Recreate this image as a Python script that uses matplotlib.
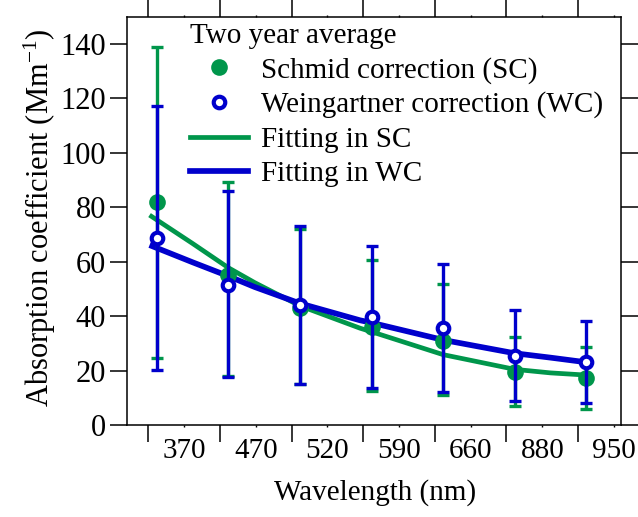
import numpy as np
import matplotlib
matplotlib.use("Agg")
import matplotlib.pyplot as plt
from matplotlib.lines import Line2D

plt.rcParams['font.family'] = ['Liberation Serif', 'DejaVu Serif']
plt.rcParams['mathtext.fontset'] = 'custom'
plt.rcParams['mathtext.rm'] = 'Liberation Serif'
plt.rcParams['mathtext.it'] = 'Liberation Serif:italic'

# ---- data ----
wavelengths = ["370", "470", "520", "590", "660", "880", "950"]

sc_mean = [82.1, 55.2, 43.0, 36.3, 31.1, 19.7, 17.3]
sc_upper = [138.9, 89.5, 72.0, 60.7, 51.9, 32.6, 28.7]
sc_lower = [24.9, 18.1, 15.1, 12.7, 11.2, 7.2, 6.2]

wc_mean = [68.7, 51.6, 44.2, 39.7, 35.9, 25.5, 23.2]
wc_upper = [117.1, 86.2, 73.2, 65.9, 59.3, 42.3, 38.5]
wc_lower = [20.4, 17.9, 15.2, 13.9, 12.4, 9.0, 8.1]

fit_x = [-0.10, 0.5, 1.0, 1.37, 2.0, 2.84, 3.0, 4.0, 5.0, 5.5, 6.0]
fit_sc = [77.2, 66.8, 57.9, 52.4, 43.9, 35.7, 34.4, 26.0, 20.6, 19.3, 18.5]
fit_wc = [66.2, 59.9, 54.8, 50.8, 44.8, 38.6, 37.7, 31.4, 26.5, 24.9, 23.2]

GREEN = "#00964B"
BLUE = "#0000CC"
FS = 21

fig = plt.figure(figsize=(6.38, 5.17), dpi=100)
ax = fig.add_axes([0.1986, 0.177, 0.7748, 0.7907])

x = np.arange(len(wavelengths))
sc_m = np.array(sc_mean); wc_m = np.array(wc_mean)
sc_err = [sc_m - np.array(sc_lower), np.array(sc_upper) - sc_m]
wc_err = [wc_m - np.array(wc_lower), np.array(wc_upper) - wc_m]

ax.plot(fit_x, fit_sc, color=GREEN, lw=3.4, zorder=2, solid_capstyle='butt',
        solid_joinstyle='round')
ax.plot(fit_x, fit_wc, color=BLUE, lw=4.1, zorder=2.5, solid_capstyle='butt',
        solid_joinstyle='round')

ax.errorbar(x, sc_m, yerr=sc_err, fmt='none', ecolor=GREEN, elinewidth=2.4,
            capsize=4, capthick=2.4, zorder=3)
ax.plot(x, sc_m, 'o', color=GREEN, ms=12, mew=0, zorder=3.5)
ax.errorbar(x, wc_m, yerr=wc_err, fmt='none', ecolor=BLUE, elinewidth=2.4,
            capsize=4, capthick=2.4, zorder=4)
ax.plot(x, wc_m, 'o', mfc='white', mec=BLUE, ms=8.3, mew=3, zorder=5)

ax.set_xlim(-0.419, 6.485)
ax.set_ylim(0, 150)

ax.set_xticks(x - 0.115)
ax.set_xticklabels([])
ax.set_xticks(x + 0.385, minor=True)
ax.set_xticklabels(wavelengths, minor=True, fontsize=FS)
ax.set_yticks(np.arange(0, 141, 20))
ax.tick_params(axis='y', which='major', direction='out', length=12, width=1.1,
               labelsize=22, pad=3, right=True)
ax.tick_params(axis='x', which='major', direction='out', length=12.5, width=1.1,
               top=True)
ax.tick_params(axis='x', which='minor', direction='out', length=1.5, width=1.0,
               top=True, labelsize=FS, pad=7.5)
for s in ax.spines.values():
    s.set_linewidth(1.1)

ax.set_xlabel("Wavelength (nm)", fontsize=FS)
ax.set_ylabel(r"Absorption coefficient (Mm$^{\mathrm{-1}}$)", fontsize=22)
ax.xaxis.set_label_coords(0.503, -0.132)
ax.yaxis.set_label_coords(-0.139, 0.509)

handles = [
    Line2D([], [], ls='none', marker='o', color=GREEN, ms=12, mew=0),
    Line2D([], [], ls='none', marker='o', mfc='white', mec=BLUE, ms=8.3, mew=3),
    Line2D([], [], color=GREEN, lw=3.4),
    Line2D([], [], color=BLUE, lw=4.1),
]
labels = ["Schmid correction (SC)", "Weingartner correction (WC)",
          "Fitting in SC", "Fitting in WC"]
leg = ax.legend(handles, labels, title="Two year average", loc='upper left',
                bbox_to_anchor=(0.128, 0.985), frameon=False, fontsize=FS,
                title_fontsize=FS, borderaxespad=0, borderpad=0,
                handlelength=2.0, handletextpad=0.42, labelspacing=0.27,
                alignment='left')

fig.savefig("out.png", dpi=100)
